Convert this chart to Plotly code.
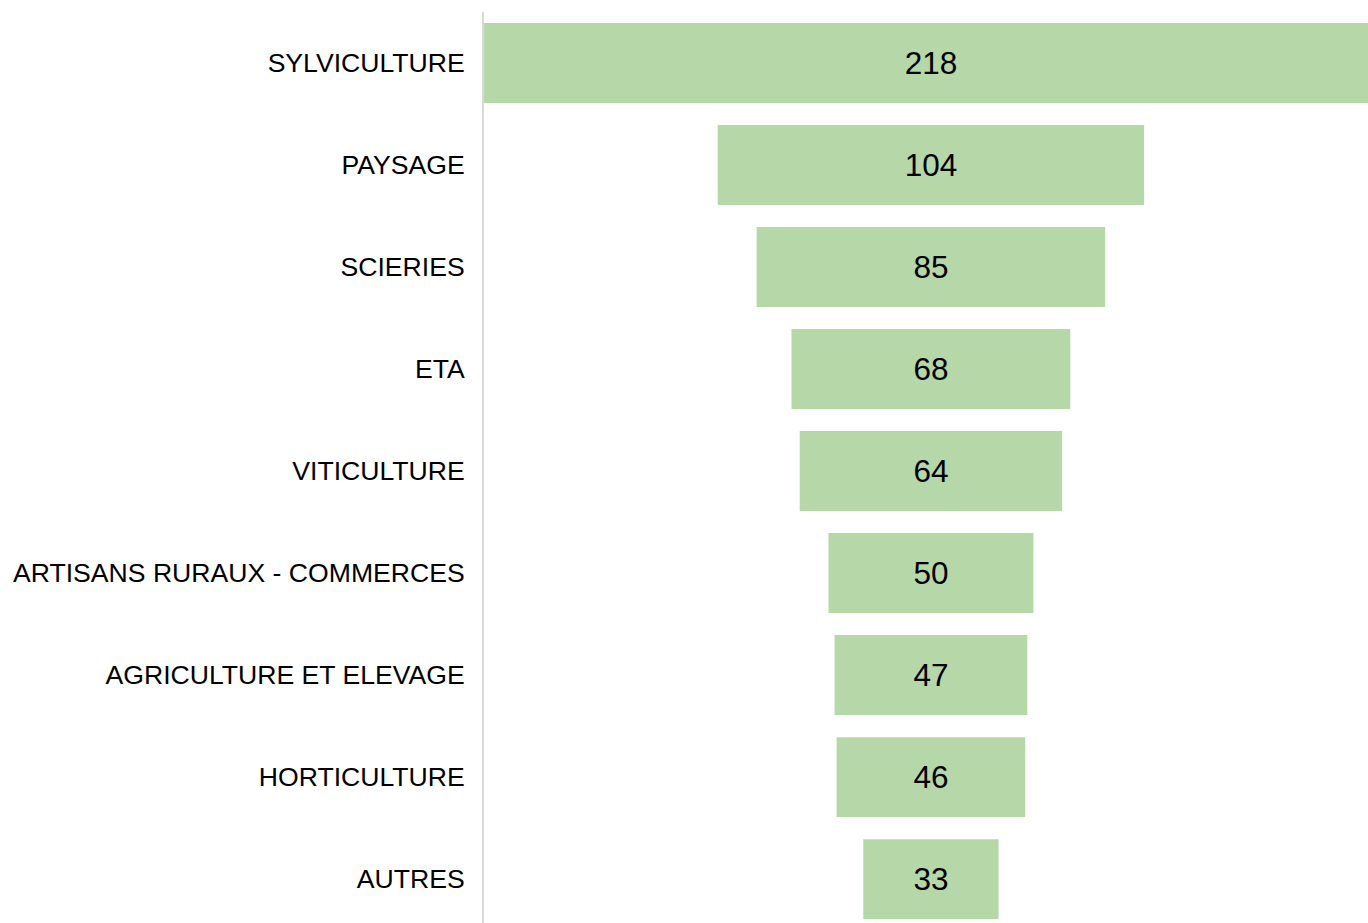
import plotly.graph_objects as go

categories = ["SYLVICULTURE", "PAYSAGE", "SCIERIES", "ETA", "VITICULTURE",
              "ARTISANS RURAUX - COMMERCES", "AGRICULTURE ET ELEVAGE",
              "HORTICULTURE", "AUTRES"]
values = [218, 104, 85, 68, 64, 50, 47, 46, 33]

fig = go.Figure(go.Funnel(
    y=categories,
    x=values,
    textinfo="value",
    textposition="inside",
    insidetextanchor="middle",
    textfont=dict(size=31.5, color="black", family="Liberation Sans, Arial"),
    marker=dict(color="#b6d7a8", line=dict(width=0)),
    connector=dict(visible=False),
))

fig.update_layout(
    width=1368, height=923,
    margin=dict(l=484, r=0, t=12, b=0),
    paper_bgcolor="white", plot_bgcolor="white",
    funnelgap=0.216,
    showlegend=False,
    font=dict(family="Liberation Sans, Arial", color="black"),
    xaxis=dict(visible=False, range=[-109, 106.6], showgrid=False, zeroline=False),
    yaxis=dict(range=[8.43, -0.5], showline=True, linecolor="#d9d9d9", linewidth=2,
               showgrid=False, ticks="", ticklabelstandoff=12, automargin=False,
               tickfont=dict(size=26.6, color="black", family="Liberation Sans, Arial")),
)

fig.write_html("out.html", config={"displayModeBar": False},
               post_script="document.body.style.margin='0';document.body.style.overflow='hidden';")
